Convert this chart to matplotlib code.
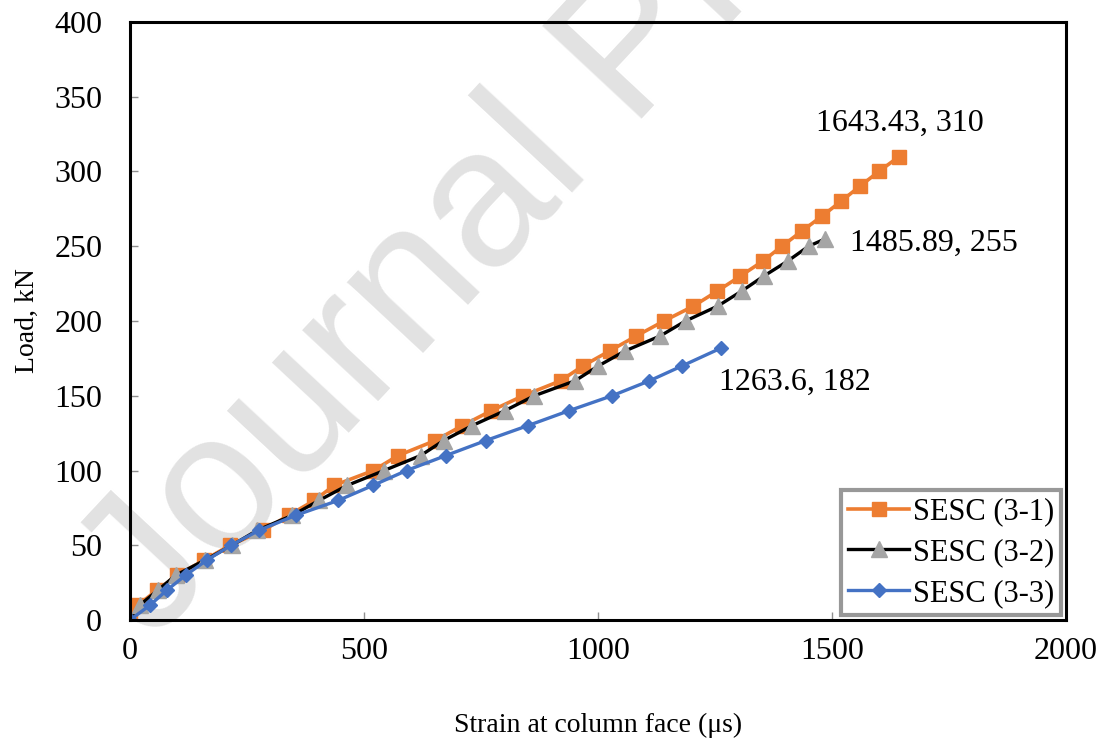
import matplotlib
matplotlib.use('Agg')
import matplotlib.pyplot as plt

# --------------------------------Data----------------------------------------------------------------------------------
strain_31 = [0, 17, 58, 101, 158, 214, 285, 339, 394, 436, 520, 573, 652, 710, 772,
             840, 920, 968, 1025, 1082, 1141, 1204, 1255, 1304, 1352, 1393, 1435, 1478,
             1519, 1559, 1600, 1643.43]
load_31 = [0, 10, 20, 30, 40, 50, 60, 70, 80, 90, 100, 110, 120, 130, 140,
           150, 160, 170, 180, 190, 200, 210, 220, 230, 240, 250, 260, 270,
           280, 290, 300, 310]

strain_32 = [0, 21, 60, 98, 160, 218, 272, 347, 404, 464, 543, 621, 670, 731, 801,
             864, 951, 1001, 1058, 1133, 1187, 1256, 1307, 1354, 1405, 1450, 1485.89]
load_32 = [0, 10, 20, 30, 40, 50, 60, 70, 80, 90, 100, 110, 120, 130, 140,
           150, 160, 170, 180, 190, 200, 210, 220, 230, 240, 250, 255]

strain_33 = [0, 43, 79, 119, 164, 216, 276, 354, 445, 519, 591, 675, 760, 850, 938,
             1030, 1110, 1180, 1263.6]
load_33 = [0, 10, 20, 30, 40, 50, 60, 70, 80, 90, 100, 110, 120, 130, 140,
           150, 160, 170, 182]

series_names = ['SESC (3-1)', 'SESC (3-2)', 'SESC (3-3)']
end_labels = ['1643.43, 310', '1485.89, 255', '1263.6, 182']

# --------------------------------Plot----------------------------------------------------------------------------------
plt.rcParams['font.family'] = ['Liberation Serif', 'DejaVu Serif']

fig = plt.figure(figsize=(11.03, 7.49), dpi=100)
ax = fig.add_axes([130 / 1103, 1 - 620 / 749, 936 / 1103, 598 / 749])
ax.set_facecolor('none')

# watermark behind everything
fig.text(0.139, 0.142, 'Journal Pre-proof', rotation=47, rotation_mode='anchor',
         ha='left', va='baseline', fontsize=142, color='#e2e2e2',
         family=['Liberation Sans', 'DejaVu Sans'], zorder=-5)

ax.plot(strain_31, load_31, color='#ed7d31', lw=2.6, marker='s', ms=10.5,
        mfc='#ed7d31', mec='#ed7d31', label=series_names[0])
ax.plot(strain_32, load_32, color='black', lw=2.4, marker='^', ms=11,
        mfc='#a5a5a5', mec='#a5a5a5', label=series_names[1])
ax.plot(strain_33, load_33, color='#4472c4', lw=2.4, marker='D', ms=7.5,
        mfc='#4472c4', mec='#4472c4', label=series_names[2])

# data labels at the last point of each series
ax.annotate(end_labels[0], (strain_31[-1], load_31[-1]), xytext=(-60, 24),
            textcoords='offset points', fontsize=23, va='center')
ax.annotate(end_labels[1], (strain_32[-1], load_32[-1]), xytext=(18, -3),
            textcoords='offset points', fontsize=23, va='center')
ax.annotate(end_labels[2], (strain_33[-1], load_33[-1]), xytext=(-2, -25),
            textcoords='offset points', fontsize=23, va='center')

ax.set_xlim(0, 2000)
ax.set_ylim(0, 400)
ax.set_xticks([0, 500, 1000, 1500, 2000])
ax.set_yticks(range(0, 401, 50))
ax.tick_params(direction='in', length=6, width=1, color='#909090',
               labelsize=23, pad=12)
ax.tick_params(axis='y', pad=20)
for s in ax.spines.values():
    s.set_linewidth(2.2)
    s.set_color('black')

ax.set_xlabel('Strain at column face (μs)', fontsize=20, labelpad=34)
ax.set_ylabel('Load, kN', fontsize=20, labelpad=10)

leg = ax.legend(loc='lower right', fontsize=22, frameon=True, fancybox=False,
                borderpad=0.25, labelspacing=0.38, handlelength=2.0,
                handletextpad=0.1, borderaxespad=0.15, edgecolor='#7f7f7f')
leg.get_frame().set_linewidth(3)

fig.savefig('out.png', dpi=100)
